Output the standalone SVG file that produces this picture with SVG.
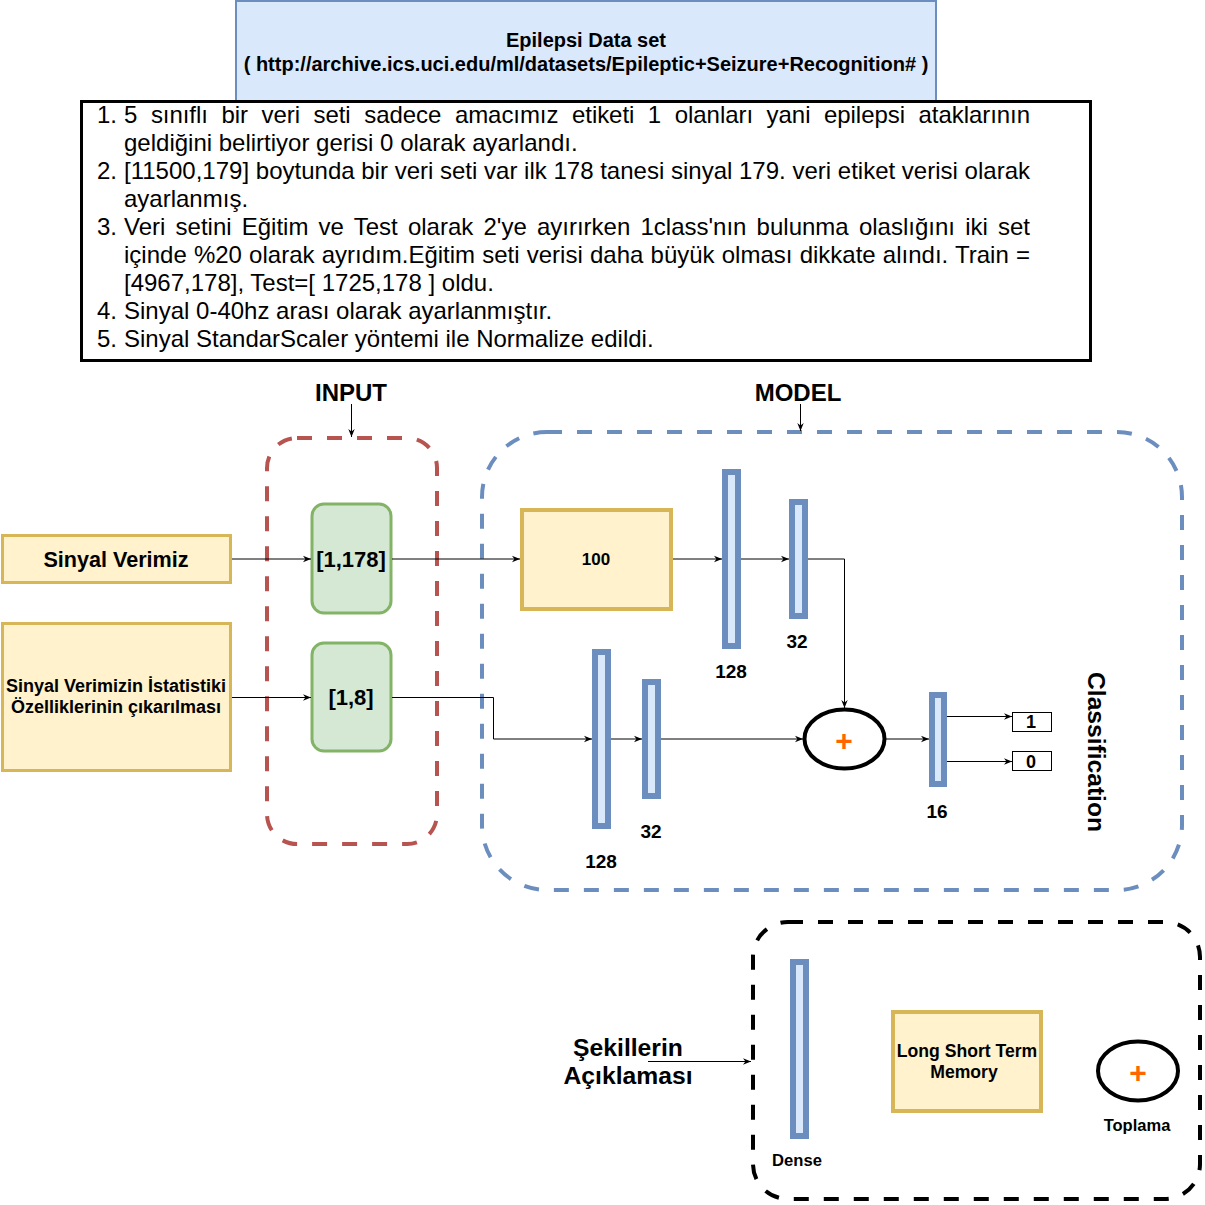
<svg xmlns="http://www.w3.org/2000/svg" width="1205" height="1205" viewBox="0 0 1205 1205">
<defs>
<marker id="arr" viewBox="0 0 10 10" refX="10" refY="5" markerWidth="8" markerHeight="8" markerUnits="userSpaceOnUse" orient="auto">
<path d="M0,1 L10,5 L0,9 L3,5 z" fill="#000"/>
</marker>
<style>
text{font-family:"Liberation Sans",Arial,sans-serif;fill:#000}
.b{font-weight:bold}
.c{text-anchor:middle}
.yellow{fill:#fff2cc;stroke:#d6b656}
.green{fill:#d5e8d4;stroke:#82b366;stroke-width:3}
.dense{fill:#dae8fc;stroke:#6c8ebf;stroke-width:6}
.ln{fill:none;stroke:#000;stroke-width:1}
.plus{fill:#ff6600;font-weight:bold;font-size:30px;text-anchor:middle}
.lst{font-size:24px}
</style>
</defs>
<rect width="1205" height="1205" fill="#fff"/>

<g id="dataset">
<rect x="236" y="1" width="700" height="100" fill="#dae8fc" stroke="#6c8ebf" stroke-width="2"/>
<text class="b c" x="586" y="47" font-size="20">Epilepsi Data set</text>
<text class="b c" x="586" y="71" font-size="20">( http://archive.ics.uci.edu/ml/datasets/Epileptic+Seizure+Recognition# )</text>
</g>

<g id="notes">
<rect x="81.5" y="101.5" width="1009" height="259" fill="#fff" stroke="#000" stroke-width="3"/>
<text class="lst" x="97" y="123">1.</text>
<text class="lst" x="124" y="123" word-spacing="7" textLength="906" lengthAdjust="spacing">5 sınıflı bir veri seti sadece amacımız etiketi 1 olanları yani epilepsi ataklarının</text>
<text class="lst" x="124" y="151">geldiğini belirtiyor gerisi 0 olarak ayarlandı.</text>
<text class="lst" x="97" y="179">2.</text>
<text class="lst" x="124" y="179" textLength="906" lengthAdjust="spacing">[11500,179] boytunda bir veri seti var ilk 178 tanesi sinyal 179. veri etiket verisi olarak</text>
<text class="lst" x="124" y="207">ayarlanmış.</text>
<text class="lst" x="97" y="235">3.</text>
<text class="lst" x="124" y="235" word-spacing="3.5" textLength="906" lengthAdjust="spacing">Veri setini Eğitim ve Test olarak 2'ye ayırırken 1class'nın bulunma olaslığını iki set</text>
<text class="lst" x="124" y="263" word-spacing="0.5" textLength="906" lengthAdjust="spacing">içinde %20 olarak ayrıdım.Eğitim seti verisi daha büyük olması dikkate alındı. Train =</text>
<text class="lst" x="124" y="291">[4967,178], Test=[ 1725,178 ] oldu.</text>
<text class="lst" x="97" y="319">4.</text>
<text class="lst" x="124" y="319">Sinyal 0-40hz arası olarak ayarlanmıştır.</text>
<text class="lst" x="97" y="347">5.</text>
<text class="lst" x="124" y="347">Sinyal StandarScaler yöntemi ile Normalize edildi.</text>
</g>

<g id="input-group">
<rect x="267" y="438" width="170" height="406" rx="30" fill="none" stroke="#b85450" stroke-width="4" stroke-dasharray="15 15"/>
<text class="b c" x="351" y="401" font-size="24">INPUT</text>
</g>

<g id="model-group">
<rect x="482" y="432" width="700" height="458" rx="65" fill="none" stroke="#6c8ebf" stroke-width="4" stroke-dasharray="15 15"/>
<text class="b c" x="798" y="401" font-size="24">MODEL</text>
</g>

<g id="sinyal-verimiz">
<rect class="yellow" x="2.5" y="535.5" width="228" height="47" stroke-width="3"/>
<text class="b c" x="116" y="567" font-size="21.6">Sinyal Verimiz</text>
</g>

<g id="sinyal-istatistik">
<rect class="yellow" x="2.5" y="623.5" width="228" height="147" stroke-width="3"/>
<text class="b c" x="116" y="692" font-size="18">Sinyal Verimizin İstatistiki</text>
<text class="b c" x="116" y="713" font-size="18">Özelliklerinin çıkarılması</text>
</g>

<g id="input-178">
<rect class="green" x="312" y="504" width="79" height="109" rx="12"/>
<text class="b c" x="351" y="567" font-size="22">[1,178]</text>
</g>

<g id="input-8">
<rect class="green" x="312" y="643" width="79" height="108" rx="12"/>
<text class="b c" x="351" y="705" font-size="22">[1,8]</text>
</g>

<g id="lstm-100">
<rect class="yellow" x="522" y="510" width="149" height="99" stroke-width="4"/>
<text class="b c" x="596" y="565" font-size="17">100</text>
</g>

<g id="dense-128-top">
<rect class="dense" x="725" y="472" width="13" height="174"/>
<text class="b c" x="731" y="678" font-size="19">128</text>
</g>

<g id="dense-32-top">
<rect class="dense" x="792" y="502" width="13" height="114"/>
<text class="b c" x="797" y="648" font-size="19">32</text>
</g>

<g id="dense-128-bottom">
<rect class="dense" x="595" y="652" width="13" height="174"/>
<text class="b c" x="601" y="868" font-size="19">128</text>
</g>

<g id="dense-32-bottom">
<rect class="dense" x="645" y="682" width="13" height="114"/>
<text class="b c" x="651" y="838" font-size="19">32</text>
</g>

<g id="sum">
<ellipse cx="844.5" cy="739" rx="40" ry="29.5" fill="#fff" stroke="#000" stroke-width="4"/>
<text class="plus" x="844" y="751">+</text>
</g>

<g id="dense-16">
<rect class="dense" x="932" y="695" width="12" height="89"/>
<text class="b c" x="937" y="818" font-size="19">16</text>
</g>

<g id="out-1">
<rect x="1012.5" y="712.5" width="39" height="19" fill="#fff" stroke="#000" stroke-width="1"/>
<text class="b c" x="1031" y="728" font-size="18">1</text>
</g>

<g id="out-0">
<rect x="1012.5" y="751.5" width="39" height="19" fill="#fff" stroke="#000" stroke-width="1"/>
<text class="b c" x="1031" y="768" font-size="18">0</text>
</g>

<g id="classification">
<text class="b c" font-size="24.6" transform="translate(1097,752) rotate(90)" x="0" y="9">Classification</text>
</g>

<g id="connectors">
<line class="ln" x1="351.5" y1="404" x2="351.5" y2="437" marker-end="url(#arr)"/>
<line class="ln" x1="800.5" y1="404" x2="800.5" y2="431" marker-end="url(#arr)"/>
<line class="ln" x1="232" y1="559" x2="311" y2="559" marker-end="url(#arr)"/>
<line class="ln" x1="232" y1="697.5" x2="311" y2="697.5" marker-end="url(#arr)"/>
<line class="ln" x1="392" y1="559" x2="520" y2="559" marker-end="url(#arr)"/>
<polyline class="ln" points="392,697.5 493.5,697.5 493.5,739 592,739" marker-end="url(#arr)"/>
<line class="ln" x1="673" y1="559" x2="722" y2="559" marker-end="url(#arr)"/>
<line class="ln" x1="741" y1="559" x2="789" y2="559" marker-end="url(#arr)"/>
<polyline class="ln" points="808,559 844.5,559 844.5,708" marker-end="url(#arr)"/>
<line class="ln" x1="611" y1="739" x2="642" y2="739" marker-end="url(#arr)"/>
<line class="ln" x1="661" y1="739" x2="803" y2="739" marker-end="url(#arr)"/>
<line class="ln" x1="886" y1="739" x2="929" y2="739" marker-end="url(#arr)"/>
<line class="ln" x1="947" y1="716.5" x2="1012" y2="716.5" marker-end="url(#arr)"/>
<line class="ln" x1="947" y1="761.5" x2="1012" y2="761.5" marker-end="url(#arr)"/>
<line class="ln" x1="648" y1="1061.5" x2="751" y2="1061.5" marker-end="url(#arr)"/>
</g>

<g id="legend">
<rect x="753" y="922" width="447" height="277" rx="35" fill="none" stroke="#000" stroke-width="4" stroke-dasharray="15 15"/>
<text class="b c" x="628" y="1056" font-size="24.7">Şekillerin</text>
<text class="b c" x="628" y="1084" font-size="24.7">Açıklaması</text>
</g>

<g id="legend-dense">
<rect class="dense" x="793" y="962" width="13" height="174"/>
<text class="b c" x="797" y="1166" font-size="16.6">Dense</text>
</g>

<g id="legend-lstm">
<rect class="yellow" x="893" y="1012" width="148" height="99" stroke-width="4"/>
<text class="b c" x="967" y="1057" font-size="17.6">Long Short Term</text>
<text class="b c" x="964" y="1078" font-size="17.6">Memory</text>
</g>

<g id="legend-sum">
<ellipse cx="1138" cy="1071" rx="40" ry="29.5" fill="#fff" stroke="#000" stroke-width="4"/>
<text class="plus" x="1138" y="1083">+</text>
<text class="b c" x="1137" y="1131" font-size="16.5">Toplama</text>
</g>
</svg>
